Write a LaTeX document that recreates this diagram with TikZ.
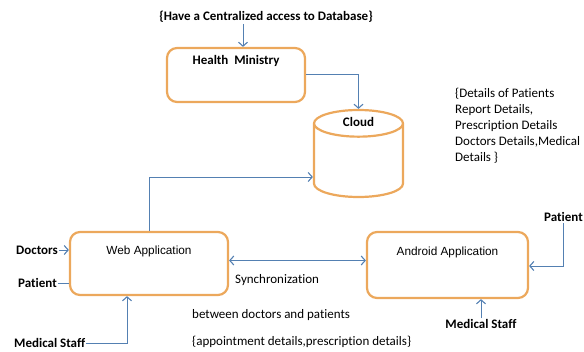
\documentclass[tikz,border=0pt]{standalone}
\usepackage{fontspec}
\setmainfont{Carlito}[Ligatures={NoCommon}]
\newfontfamily\arialfont{Liberation Sans}
\usetikzlibrary{arrows.meta, shapes.geometric}
\definecolor{boxOrange}{RGB}{236,168,92}
\definecolor{flowBlue}{RGB}{84,128,178}
\tikzset{
    appBox/.style={draw=boxOrange, line width=2.2pt, rounded corners=10pt, fill=white},
    flowLine/.style={draw=flowBlue, line width=0.9pt},
    actorText/.style={font=\fontsize{13}{15}\selectfont\bfseries, inner sep=1pt},
    appText/.style={font=\arialfont\fontsize{11.8}{14}\selectfont, inner sep=1pt},
    noteText/.style={font=\fontsize{13}{16}\selectfont, inner sep=0pt}
}

\begin{document}
\begin{tikzpicture}[x=1pt, y=-1pt, >={Straight Barb[length=4pt,width=9pt,line width=1.1pt]}]
    \useasboundingbox (0,0) rectangle (584,351);
    % --- Ministry and cloud storage ---
    \node[actorText] (access) at (266,17) {\{Have a Centralized access to Database\}};
    \node[appBox, minimum width=138pt, minimum height=54pt,
          label={[actorText, anchor=north, yshift=-7pt]north:Health\ \ Ministry}] (ministry) at (236,75) {};
    \node[cylinder, shape border rotate=90, aspect=4, draw=boxOrange, line width=2.2pt, fill=white,
          minimum width=89pt, minimum height=87pt, anchor=shape center,
          label={[actorText, anchor=north, yshift=-7pt]north:Cloud}] (cloud) at (358.5,153.5) {};
    \node[noteText, anchor=north west, align=left] (details) at (455,88)
        {\{Details of Patients\\Report Details,\\Prescription Details\\Doctors Details,Medical\\Details \}};
    \draw[flowLine, ->] ([xshift=7pt]ministry.north |- access.south) -- ([xshift=7pt]ministry.north);
    \draw[flowLine, ->] ([yshift=1pt]ministry.east) -| (cloud.north);
    % --- Applications ---
    \node[appBox, minimum width=158pt, minimum height=63pt,
          label={[appText, anchor=north, yshift=-14pt]north:Web Application}] (web) at (149,263.5) {};
    \node[appBox, minimum width=161pt, minimum height=66pt,
          label={[appText, anchor=north, yshift=-15pt]north:Android Application}] (android) at (447.5,265) {};
    \draw[flowLine, line width=0.7pt, ->] (web.north) |- ([yshift=-23.5pt]cloud.shape center -| cloud.west);
    \draw[flowLine, <->] ([yshift=3pt]web.east) -- ([yshift=3pt]web.east -| android.west);
    \node[noteText, anchor=west] (syncA) at (235,280) {Synchronization};
    \node[noteText, anchor=west] (syncB) at (192,315) {between doctors and patients};
    \node[noteText, anchor=west] (syncC) at (192,342) {\{appointment details,prescription details\}};
    % --- Users ---
    \node[actorText, anchor=east] (doctors) at (59,250) {Doctors};
    \node[actorText, anchor=east] (patientW) at (58,283) {Patient};
    \node[actorText, anchor=west] (staffW) at (13,343) {Medical Staff};
    \node[actorText] (patientA) at (563.5,217) {Patient};
    \node[actorText] (staffA) at (481,324) {Medical Staff};
    \draw[flowLine, ->] (doctors.east) -- (doctors.east -| web.west);
    \draw[flowLine] (patientW.east) -- (patientW.east -| web.west);
    \draw[flowLine, ->] (staffW.east) -| ([xshift=-22pt]web.south);
    \draw[flowLine, ->] (patientA.south) |- ([yshift=-1pt]android.east);
    \draw[flowLine, line width=0.6pt, ->] (staffA.north) -- (staffA.north |- android.south);
\end{tikzpicture}
\end{document}
